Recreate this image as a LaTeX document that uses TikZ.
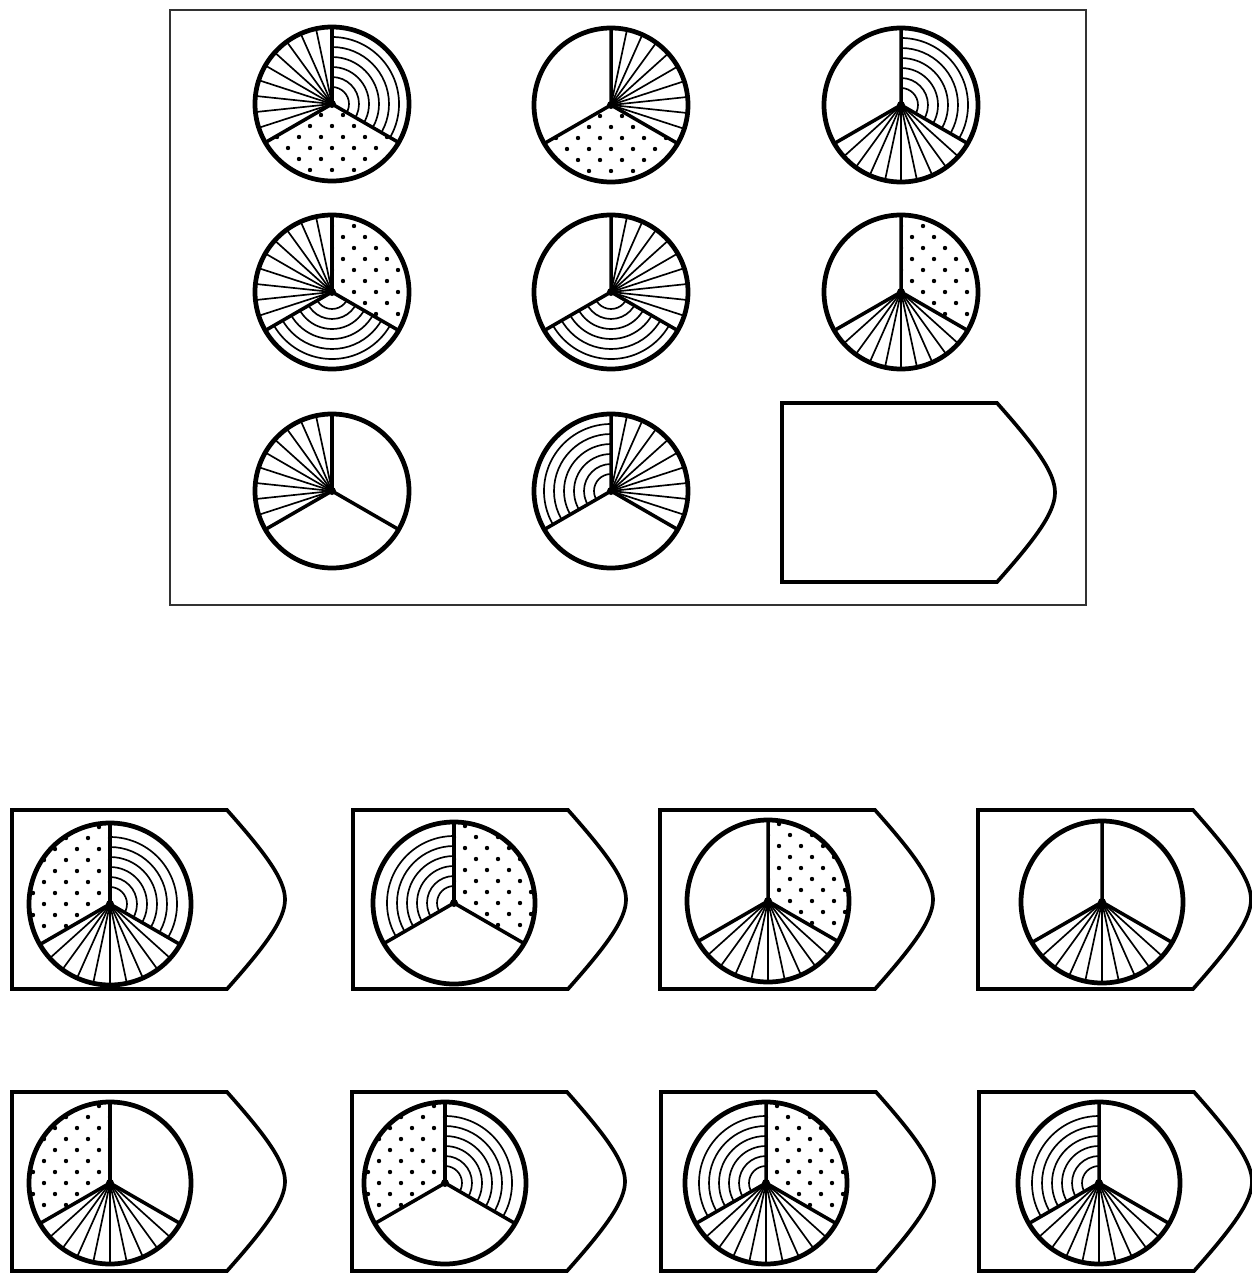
\documentclass[tikz,border=0pt]{standalone}
\usepackage{xcolor}
\usepackage{tikz}
\usetikzlibrary{calc}
\definecolor{framecolor}{RGB}{50, 50, 50}

% sector patterns, argument = start angle of the sector
\newcommand{\patblank}[1]{}
\newcommand{\patdots}[1]{%
  \foreach \i in {-4,...,4}
    \foreach \j in {-4,...,4} {
      \fill ({22*\i},{22*\j}) circle (2.2);
      \fill ({22*\i+11},{22*\j+11}) circle (2.2);
    }}
\newcommand{\patfan}[1]{%
  \foreach \k in {1,...,9}
    \draw[hatch] (0,0) -- ({#1+12*\k}:\rad);}
\newcommand{\patarcs}[1]{%
  \foreach \rr in {17,27,...,67}
    \draw[hatch] (0,0) circle (\rr);}

% pie: name, centre, radius, right, left, bottom sector
\newcommand{\pie}[6]{%
  \begin{scope}[shift={#2}]
    \def\rad{#3}
    \coordinate (#1) at (0,0);
    \begin{scope}
      \clip (0,0) -- (-30:\rad) arc[start angle=-30, end angle=90, radius=\rad] -- cycle;
      \csname pat#4\endcsname{-30}
    \end{scope}
    \begin{scope}
      \clip (0,0) -- (90:\rad) arc[start angle=90, end angle=210, radius=\rad] -- cycle;
      \csname pat#5\endcsname{90}
    \end{scope}
    \begin{scope}
      \clip (0,0) -- (210:\rad) arc[start angle=210, end angle=330, radius=\rad] -- cycle;
      \csname pat#6\endcsname{210}
    \end{scope}
    \fill (0,0) circle (4);
    \draw[divider] (90:\rad) -- (0,0) -- (210:\rad) (0,0) -- (330:\rad);
    \draw[rim] (0,0) circle (\rad);
  \end{scope}}

% tag shaped box: name, left x, top y
\newcommand{\tagbox}[3]{%
  \draw[tagline] (#2,#3) coordinate (#1) -- ++(215,0)
    .. controls +(40,-45) and +(0,19.5) .. ++(58,-89.5)
    .. controls +(0,-19.5) and +(40,45) .. ++(-58,-89.5)
    -- ++(-215,0) -- cycle;}

\begin{document}
\begin{tikzpicture}[
    x=0.02cm, y=0.02cm,
    hatch/.style={line width=0.95pt},
    divider/.style={line width=2pt, line cap=round},
    rim/.style={line width=2.7pt},
    tagline/.style={line width=2.1pt},
    frame/.style={draw=framecolor, line width=0.7pt}
]
\useasboundingbox (0,0) rectangle (1251,-1288);

% Matrix
\draw[frame] (170,-10) coordinate (frametop) rectangle (1086,-605);

\pie{a1}{(332,-104)}{77}{arcs}{fan}{dots}
\pie{a2}{(611,-105)}{77}{fan}{blank}{dots}
\pie{a3}{(901,-105)}{77}{arcs}{blank}{fan}

\pie{b1}{(332,-292)}{77}{dots}{fan}{arcs}
\pie{b2}{(611,-292)}{77}{fan}{blank}{arcs}
\pie{b3}{(901,-292)}{77}{dots}{blank}{fan}

\pie{c1}{(332,-491)}{77}{blank}{fan}{blank}
\pie{c2}{(611,-491)}{77}{fan}{arcs}{blank}
\tagbox{gap}{782}{-403}

% Answer options
\tagbox{t1}{12}{-810}
\tagbox{t2}{353}{-810}
\tagbox{t3}{660}{-810}
\tagbox{t4}{978}{-810}
\pie{o1}{(110,-904)}{81}{arcs}{dots}{fan}
\pie{o2}{(454,-903)}{81}{dots}{arcs}{blank}
\pie{o3}{(768,-901)}{81}{dots}{blank}{fan}
\pie{o4}{(1102,-902)}{81}{blank}{blank}{fan}

\tagbox{t5}{12}{-1092}
\tagbox{t6}{352}{-1092}
\tagbox{t7}{661}{-1092}
\tagbox{t8}{979}{-1092}
\pie{o5}{(110,-1183)}{81}{blank}{dots}{fan}
\pie{o6}{(445,-1183)}{81}{arcs}{dots}{blank}
\pie{o7}{(766,-1183)}{81}{dots}{arcs}{fan}
\pie{o8}{(1099,-1183)}{81}{blank}{arcs}{fan}

\end{tikzpicture}
\end{document}
